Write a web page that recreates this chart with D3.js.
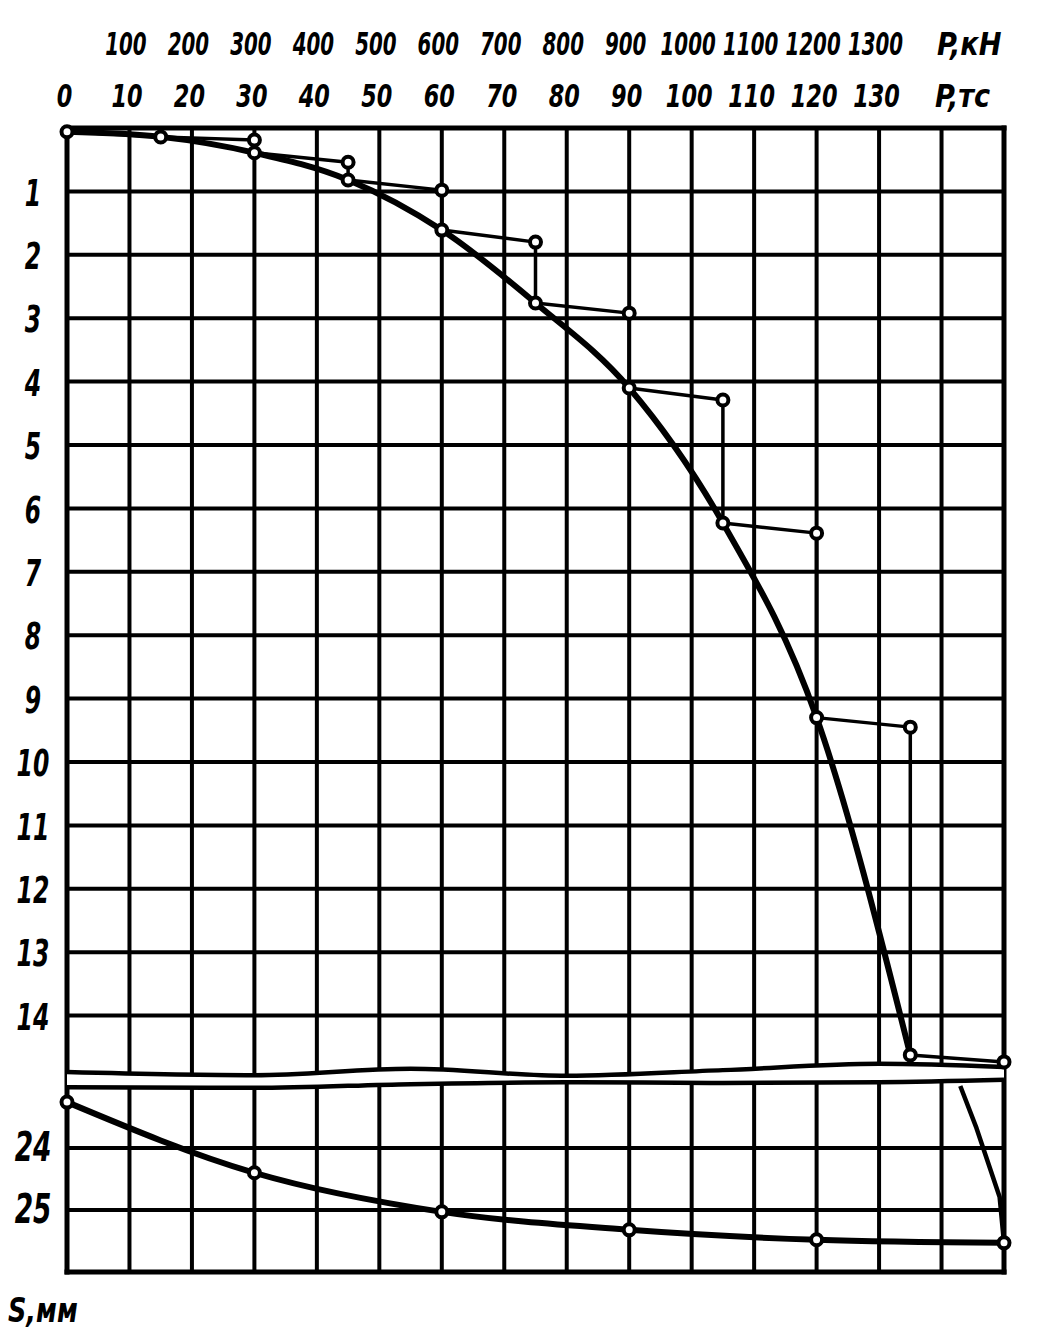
<!DOCTYPE html>
<html><head><meta charset="utf-8">
<script src="https://cdn.jsdelivr.net/npm/d3@7"></script>
<style>body{margin:0;background:#fff}svg{display:block}</style>
</head><body>
<svg id="c" width="1039" height="1340"></svg>
<script>
// ---- data ----
const loads    = [0, 15, 30, 45, 60, 75, 90, 105, 120, 135, 150];          // P, тс
const sInitial = [0.06, 0.14, 0.19, 0.54, 0.98, 1.80, 2.92, 4.29, 6.39, 9.45, 14.73]; // S at start of step, мм
const sFinal   = [0.06, 0.14, 0.39, 0.82, 1.61, 2.76, 4.10, 6.23, 9.30, 14.62, 25.53]; // S at end of step, мм
const failureP = [143, 145.6, 149.3, 150];
const failureS = [23.0, 23.68, 24.79, 25.53];
const unloadP  = [0, 30, 60, 90, 120, 150];
const unloadS  = [23.26, 24.40, 25.03, 25.32, 25.48, 25.53];
const tcTicks  = [0,10,20,30,40,50,60,70,80,90,100,110,120,130];
const kNTicks  = [100,200,300,400,500,600,700,800,900,1000,1100,1200,1300];
const upperSTicks = [1,2,3,4,5,6,7,8,9,10,11,12,13,14];
const lowerSTicks = [24,25];
const breakP      = [0, 30, 55, 80, 105, 130, 150];
const upperBreakS = [14.89, 14.94, 14.84, 14.95, 14.86, 14.76, 14.81];
const lowerBreakS = [23.02, 23.03, 22.97, 22.94, 22.95, 22.94, 22.90];

// ---- scales ----
const svg = d3.select("#c");
const x   = d3.scaleLinear().domain([0,150]).range([67,1004]);
const xkN = d3.scaleLinear().domain([0,1500]).range([67,1004]);
const yU  = d3.scaleLinear().domain([0,14]).range([128,1015.6]);
const yL  = d3.scaleLinear().domain([24,25]).range([1148,1210]);
const yS  = s => s < 18 ? yU(s) : yL(s);

const FONT = "'DejaVu Sans', 'Liberation Sans', sans-serif";

// ---- grid ----
const grid = svg.append("g").attr("stroke","#000").attr("stroke-linecap","square");
grid.selectAll("line.v").data(d3.range(0,151,10)).join("line")
  .attr("x1", d => x(d)).attr("x2", d => x(d))
  .attr("y1", yU(0)).attr("y2", yL(26))
  .attr("stroke-width", d => (d===0||d===150) ? 5 : 4);
grid.selectAll("line.hu").data(d3.range(0,15)).join("line")
  .attr("x1", x(0)).attr("x2", x(150))
  .attr("y1", d => yU(d)).attr("y2", d => yU(d))
  .attr("stroke-width", d => d===0 ? 5 : 4);
grid.selectAll("line.hl").data([24,25,26]).join("line")
  .attr("x1", x(0)).attr("x2", x(150))
  .attr("y1", d => yL(d)).attr("y2", d => yL(d))
  .attr("stroke-width", d => d===26 ? 5 : 4);

// ---- axis break ----
const brk = breakP.map((p,i) => ({p, u: upperBreakS[i], l: lowerBreakS[i]}));
svg.append("path").datum(brk)
  .attr("fill","#fff")
  .attr("d", d3.area().x(d => x(d.p)).y0(d => yU(d.u)).y1(d => yL(d.l)).curve(d3.curveMonotoneX));
svg.append("rect").attr("x", x(150)+3).attr("y", yU(14.7)).attr("width", 20).attr("height", 40).attr("fill","#fff");
svg.append("path").datum(brk).attr("fill","none").attr("stroke","#000").attr("stroke-width",4.5)
  .attr("d", d3.line().x(d => x(d.p)).y(d => yU(d.u)).curve(d3.curveMonotoneX));
svg.append("path").datum(brk).attr("fill","none").attr("stroke","#000").attr("stroke-width",4.5)
  .attr("d", d3.line().x(d => x(d.p)).y(d => yL(d.l)).curve(d3.curveMonotoneX));

// ---- data lines ----
// thin staircase: end of one step -> start of next step -> end of that step
const stair = [];
loads.forEach((p,i) => {
  if (i === 0) { stair.push([p, sFinal[i]]); return; }
  stair.push([p, sInitial[i]]);
  if (i < loads.length - 1) stair.push([p, sFinal[i]]);
});
svg.append("path").datum(stair).attr("fill","none").attr("stroke","#000")
  .attr("stroke-width",3.5).attr("stroke-linejoin","round")
  .attr("d", d3.line().x(d => x(d[0])).y(d => yS(d[1])));

// thick loading curve through stabilised settlements
const loadCurve = loads.slice(0, loads.length - 1).map((p,i) => [p, sFinal[i]]);
svg.append("path").datum(loadCurve).attr("fill","none").attr("stroke","#000")
  .attr("stroke-width",6).attr("stroke-linejoin","round")
  .attr("d", d3.line().x(d => x(d[0])).y(d => yS(d[1])).curve(d3.curveMonotoneX));

// failure branch in the lower panel
svg.append("path").datum(failureP.map((p,i) => [p, failureS[i]])).attr("fill","none").attr("stroke","#000")
  .attr("stroke-width",4.5).attr("stroke-linejoin","round")
  .attr("d", d3.line().x(d => x(d[0])).y(d => yL(d[1])));

// unloading curve
svg.append("path").datum(unloadP.map((p,i) => [p, unloadS[i]])).attr("fill","none").attr("stroke","#000")
  .attr("stroke-width",6)
  .attr("d", d3.line().x(d => x(d[0])).y(d => yL(d[1])).curve(d3.curveMonotoneX));

// ---- markers ----
const pts = [];
loads.forEach((p,i) => {
  pts.push([p, sInitial[i]]);
  if (sFinal[i] !== sInitial[i]) pts.push([p, sFinal[i]]);
});
unloadP.forEach((p,i) => { if (p !== 150) pts.push([p, unloadS[i]]); });
svg.append("g").selectAll("circle").data(pts).join("circle")
  .attr("cx", d => x(d[0])).attr("cy", d => yS(d[1])).attr("r", 5.5)
  .attr("fill","#fff").attr("stroke","#000").attr("stroke-width",4);

// ---- axes / labels ----
function styleAxis(g, size, sx, dx) {
  g.select(".domain").remove();
  g.selectAll("line").remove();
  g.selectAll("text")
    .attr("y", 0).attr("dy", 0).attr("x", dx / sx)
    .attr("transform", `scale(${sx},1)`)
    .attr("font-family", FONT).attr("font-size", size)
    .attr("font-weight","bold").attr("font-style","italic")
    .attr("fill","#000").attr("text-anchor","middle");
}
const gTc = svg.append("g").attr("transform","translate(0,107)")
  .call(d3.axisTop(x).tickValues(tcTicks).tickSize(0).tickFormat(d3.format("d")));
styleAxis(gTc, 32, 0.7, -3);
const gKn = svg.append("g").attr("transform","translate(0,55)")
  .call(d3.axisTop(xkN).tickValues(kNTicks).tickSize(0).tickFormat(d3.format("d")));
styleAxis(gKn, 32, 0.62, -4);

const gLu = svg.append("g").attr("transform","translate(33,0)")
  .call(d3.axisLeft(yU).tickValues(upperSTicks).tickSize(0).tickFormat(d3.format("d")));
styleAxis(gLu, 38, 0.62, 0);
gLu.selectAll("text").attr("dy","0.36em");
const gLl = svg.append("g").attr("transform","translate(33,0)")
  .call(d3.axisLeft(yL).tickValues(lowerSTicks).tickSize(0).tickFormat(d3.format("d")));
styleAxis(gLl, 40, 0.66, 0);
gLl.selectAll("text").attr("dy","0.3em");

function unitLabel(txt, px, py, size, sx) {
  svg.append("text").attr("transform", `translate(${px},${py}) scale(${sx},1)`)
    .attr("font-family", FONT).attr("font-size", size)
    .attr("font-weight","bold").attr("font-style","italic")
    .attr("fill","#000").attr("text-anchor","start").text(txt);
}
unitLabel("P,кН", 937, 55, 32, 0.85);
unitLabel("P,тс", 935, 107, 32, 0.85);
unitLabel("S,мм", 8, 1322, 34, 0.75);
</script>
</body></html>
